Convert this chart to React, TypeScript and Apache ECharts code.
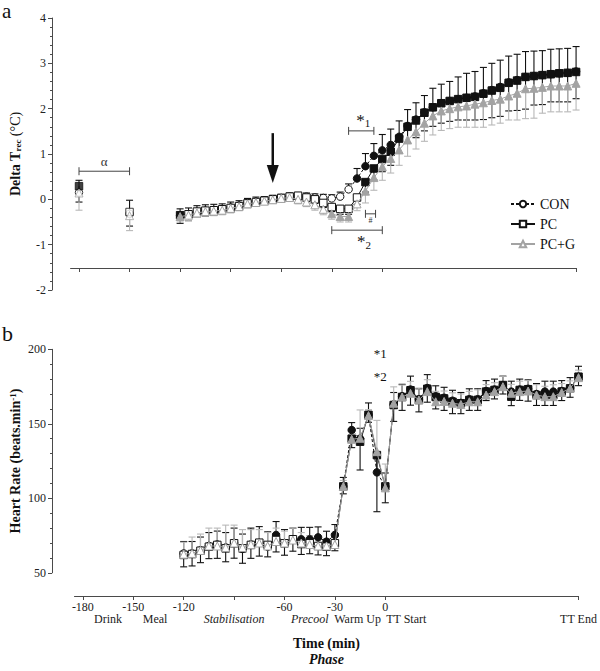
import React, { useEffect, useRef } from "react";
import * as echarts from "echarts";

const FONT = "'Liberation Serif', 'Times New Roman', serif";

// ---------- time points (min) ----------
const earlyTimes = [-180, -150];
const mainTimes = [
  -120, -115, -110, -105, -100, -95, -90, -85, -80, -75, -70, -65, -60, -55, -50, -45, -40, -35,
  -30, -25, -20, -15, -10, -5, 0, 5, 10, 15, 20, 25, 30, 35, 40, 45, 50, 55, 60, 65, 70, 75, 80,
  85, 90, 95, 100, 105, 110, 115,
];
const xTickValues = [-180, -150, -120, -90, -60, -30, 0, 115];
const xLabelValues = [-180, -150, -120, -60, -30, 0];
const phaseNames = ["Drink", "Meal", "Stabilisation", "Precool", "Warm Up", "TT Start", "TT End"];
const phasePositions = [-165, -137, -90, -45, -16.5, 12.5, 115];
const phaseItalic = [false, false, true, true, false, false, false];

// ---------- panel a: Delta Trec ----------
const conEarly = [0.15, -0.32];
const conEarlySd = [0.27, 0.3];
const pcEarly = [0.29, -0.28];
const pcEarlySd = [0.35, 0.31];
const pcgEarly = [0.14, -0.36];
const pcgEarlySd = [0.38, 0.33];

const conTrec = [
  -0.36, -0.33, -0.28, -0.25, -0.24, -0.22, -0.18, -0.14, -0.08, -0.05, -0.03, 0.0, 0.03, 0.06, 0.07, 0.06, 0.04, 0.03,
  0.02, 0.06, 0.22, 0.46, 0.73, 0.96, 1.08, 1.2, 1.38, 1.62, 1.76, 1.92, 2.03, 2.12, 2.17, 2.21, 2.24, 2.27, 2.34,
  2.41, 2.48, 2.58, 2.63, 2.7, 2.72, 2.74, 2.76, 2.78, 2.79, 2.82,
];
const pcTrec = [
  -0.35, -0.33, -0.27, -0.25, -0.24, -0.22, -0.19, -0.15, -0.09, -0.06, -0.03, 0.0, 0.03, 0.06, 0.08, 0.04, 0.0, -0.08,
  -0.17, -0.21, -0.21, 0.04, 0.38, 0.68, 0.89, 1.05, 1.34, 1.6, 1.74, 1.91, 2.03, 2.12, 2.17, 2.21, 2.24, 2.26, 2.33,
  2.4, 2.46, 2.57, 2.62, 2.7, 2.72, 2.74, 2.76, 2.78, 2.79, 2.81,
];
const pcgTrec = [
  -0.38, -0.35, -0.3, -0.27, -0.26, -0.24, -0.2, -0.16, -0.1, -0.07, -0.04, -0.01, 0.02, 0.04, 0.0, -0.06, -0.12, -0.22,
  -0.32, -0.38, -0.38, -0.1, 0.18, 0.48, 0.72, 0.9, 1.09, 1.31, 1.49, 1.68, 1.84, 1.95, 2.0, 2.04, 2.06, 2.1, 2.13,
  2.18, 2.21, 2.28, 2.34, 2.44, 2.45, 2.47, 2.5, 2.5, 2.5, 2.56,
];
const conTrecSd = [
  0.15, 0.14, 0.14, 0.13, 0.13, 0.12, 0.12, 0.11, 0.1, 0.1, 0.09, 0.09, 0.08, 0.08, 0.08, 0.08, 0.08, 0.08,
  0.08, 0.1, 0.12, 0.22, 0.28, 0.27, 0.35, 0.35, 0.35, 0.36, 0.37, 0.37, 0.42, 0.42, 0.43, 0.49, 0.54, 0.55, 0.57,
  0.59, 0.59, 0.58, 0.57, 0.56, 0.55, 0.54, 0.55, 0.54, 0.54, 0.55,
];
const pcTrecSd = [
  0.18, 0.14, 0.12, 0.12, 0.11, 0.1, 0.1, 0.09, 0.08, 0.08, 0.07, 0.07, 0.07, 0.07, 0.08, 0.08, 0.09, 0.1,
  0.1, 0.12, 0.12, 0.15, 0.22, 0.25, 0.28, 0.3, 0.32, 0.35, 0.38, 0.4, 0.42, 0.44, 0.45, 0.46, 0.49, 0.51, 0.57,
  0.6, 0.63, 0.62, 0.66, 0.71, 0.64, 0.65, 0.61, 0.63, 0.64, 0.59,
];
const pcgTrecSd = [
  0.12, 0.12, 0.1, 0.1, 0.1, 0.1, 0.1, 0.09, 0.09, 0.08, 0.08, 0.08, 0.08, 0.08, 0.1, 0.1, 0.12, 0.12,
  0.12, 0.12, 0.12, 0.15, 0.26, 0.28, 0.3, 0.32, 0.34, 0.36, 0.38, 0.4, 0.42, 0.43, 0.44, 0.45, 0.47, 0.51, 0.54,
  0.54, 0.53, 0.53, 0.59, 0.66, 0.66, 0.57, 0.57, 0.57, 0.57, 0.59,
];
// significance (filled symbols)
const conTrecFilledFrom = -15;
const conTrecFilledExtra: number[] = [];
const pcTrecFilledFrom = -10;
const pcTrecFilledExtra = [-180, -120];
const pcgTrecFilledFrom = -10;
const pcgTrecFilledExtra = [-120, -30, -25, -20];

// ---------- panel b: Heart rate ----------
const conHR = [
  63, 63, 65, 68, 69, 67, 70, 66, 69, 70, 67.5, 75.4, 70, 72, 72.5, 72.5, 73.8, 70.9, 75.4,
  108, 145.8, 140, 156, 117.4, 108, 163, 168.5, 173, 166.5, 174, 168.5, 167.5, 165.5, 164, 166.5, 166.5, 172, 173,
  176, 171.6, 173, 173.5, 170, 171.6, 171.6, 172, 174, 181.6,
];
const pcHR = [
  62, 62.6, 64.8, 67.5, 68.7, 66.4, 69.8, 66.4, 68.7, 70.2, 68.7, 72, 69.8, 72.5, 69.3, 69.8, 68, 67.5, 69.8,
  108, 140, 138, 156, 129, 108, 162.6, 168, 172.5, 166, 173.5, 168, 167, 164.8, 163.8, 166, 166, 171.6, 172.7,
  176, 168.2, 172.7, 173.2, 169.3, 169.3, 169.3, 171.6, 173.8, 181.6,
];
const pcgHR = [
  62.5, 63, 65, 68, 68, 67, 70, 67, 69, 70, 68, 71, 70, 72, 70, 69, 68, 68, 69,
  108, 139.6, 140.3, 155.5, 131.3, 107, 163.8, 168, 170.5, 166, 171.6, 164.8, 165, 163.8, 163, 164.8, 164.8, 169.3,
  171.6, 174.9, 170.5, 171.6, 172, 169.3, 168.2, 168.2, 171, 173.8, 181,
];
const conHRSd = [
  8, 8, 9, 9, 9, 10, 10, 10, 11, 11, 10, 9, 9, 8, 8, 8, 7, 7, 7,
  6, 5, 7, 8, 10, 9, 8, 8, 9, 7, 9, 7, 7, 7, 7, 7, 7, 7, 7, 6, 7, 7, 6, 7, 7, 7, 7, 7, 7,
];
const pcHRSd = [
  8, 8, 8, 8, 9, 9, 10, 10, 9, 9, 8, 8, 8, 8, 7, 7, 6, 6, 5,
  5, 6, 19, 5, 38, 11, 11, 9, 10, 8, 9, 8, 8, 8, 7, 7, 7, 6, 6, 6, 6, 7, 8, 7, 7, 7, 6, 6, 6,
];
const pcgHRSd = [
  8, 11, 11, 12, 12, 15, 12, 12, 10, 9, 9, 9, 8, 8, 7, 6, 6, 5, 5,
  4, 6, 19, 4, 21, 16, 11, 8, 8, 8, 8, 7, 7, 7, 7, 7, 8, 7, 6, 7, 6, 7, 7, 7, 7, 8, 6, 5, 5,
];
const conHRFilledFrom = -25;
const conHRFilledExtra = [-85, -70, -65, -50, -45, -40, -35, -30];
const pcHRFilledFrom = -25;
const pcgHRFilledFrom = -25;

// ---------- annotations (data coordinates) ----------
const alphaBracket = { x1: -180, x2: -150, y: 0.62 };
const star1Bracket = { x1: -20, x2: -5, y: 1.51 };
const hashBracket = { x1: -10, x2: -4, y: -0.32 };
const star2Bracket = { x1: -30, x2: 0, y: -0.68 };
const arrowAt = { x: -65, yTop: 1.46, yTip: 0.36 };
const hrStars = [
  { x: -3, y: 197, label: "*1" },
  { x: -3, y: 181.5, label: "*2" },
];

// ---------- layout ----------
const X_MIN = -185;
const X_MAX = 115;
const PX_PER_MIN = 1.685;
const AXIS_X = 52;
const TOP = { yTop: 18, yBottom: 290, vMin: -2, vMax: 4, xAxisY: 268, zeroX: 382.3 };
const BOT = { yTop: 349.3, yBottom: 572.8, vMin: 50, vMax: 200, xAxisY: 596, zeroX: 386.2 };

const BLACK = "#111";
const GRAY = "#a3a3a3";
const GRAY_ERR = "#b8b8b8";
const AX = "#4a4a4a";

function isFilled(t: number, from: number, extra: number[]) {
  return t >= from || extra.indexOf(t) >= 0;
}

function errSeries(name: string, axis: number, times: number[], vals: number[], sds: number[], dir: number, color: string) {
  return {
    type: "custom",
    name,
    xAxisIndex: axis,
    yAxisIndex: axis,
    z: 1,
    silent: true,
    clip: false,
    data: times.map((t, i) => [t, vals[i], sds[i]]),
    encode: { x: 0, y: 1 },
    renderItem: (params: any, api: any) => {
      const x = api.value(0);
      const y = api.value(1);
      const sd = api.value(2);
      const p0 = api.coord([x, y]);
      const p1 = api.coord([x, y + dir * sd]);
      const hw = 3.5;
      return {
        type: "group",
        children: [
          { type: "line", shape: { x1: p0[0], y1: p0[1], x2: p1[0], y2: p1[1] }, style: { stroke: color, lineWidth: 1.1 } },
          { type: "line", shape: { x1: p1[0] - hw, y1: p1[1], x2: p1[0] + hw, y2: p1[1] }, style: { stroke: color, lineWidth: 1.1 } },
        ],
      };
    },
  };
}

function markSeries(
  type: string,
  name: string,
  axis: number,
  times: number[],
  vals: number[],
  from: number,
  extra: number[],
  symbol: string,
  stroke: string,
  dashed: boolean,
  z: number
) {
  return {
    type,
    name,
    xAxisIndex: axis,
    yAxisIndex: axis,
    z,
    symbol,
    symbolSize: symbol === "triangle" ? 8 : 7.5,
    showSymbol: true,
    showAllSymbol: true,
    silent: true,
    itemStyle: { color: "#fff", borderColor: stroke, borderWidth: 1 },
    lineStyle: { color: stroke, width: 1, type: dashed ? [3, 2] : "solid" },
    data: times.map((t, i) =>
      isFilled(t, from, extra) ? { value: [t, vals[i]], itemStyle: { color: stroke } } : [t, vals[i]]
    ),
  };
}

function yAxisVisible(grid: number, P: any, interval: number, name: string, rich: any) {
  return {
    gridIndex: grid,
    type: "value",
    min: P.vMin,
    max: P.vMax,
    interval,
    axisLine: { show: true, lineStyle: { color: AX, width: 1 } },
    axisTick: { show: true, length: 4, lineStyle: { color: AX } },
    minorTick: { show: true, splitNumber: 5, length: 2, lineStyle: { color: AX } },
    splitLine: { show: false },
    minorSplitLine: { show: false },
    axisLabel: { fontFamily: FONT, fontSize: 12, color: "#222", margin: 6 },
    name,
    nameLocation: "middle",
    nameGap: 30,
    nameTextStyle: { rich },
  };
}

function buildOption() {
  const topPxPerUnit = (TOP.yBottom - TOP.yTop) / (TOP.vMax - TOP.vMin);
  const botPxPerUnit = (BOT.yBottom - BOT.yTop) / (BOT.vMax - BOT.vMin);
  const topDataMin = TOP.vMin + (TOP.yBottom - TOP.xAxisY) / topPxPerUnit;
  const botDataMin = BOT.vMin - (BOT.xAxisY - BOT.yBottom) / botPxPerUnit;
  const gridW = (X_MAX - X_MIN) * PX_PER_MIN;

  const nameRichBase = { fontFamily: FONT, fontSize: 14, fontWeight: "bold", color: BLACK };

  return {
    animation: false,
    backgroundColor: "#fff",
    textStyle: { fontFamily: FONT },
    grid: [
      { left: AXIS_X, top: TOP.yTop, width: 40, height: TOP.yBottom - TOP.yTop },
      { left: TOP.zeroX + X_MIN * PX_PER_MIN, top: TOP.yTop, width: gridW, height: TOP.xAxisY - TOP.yTop },
      { left: AXIS_X, top: BOT.yTop, width: 40, height: BOT.yBottom - BOT.yTop },
      { left: BOT.zeroX + X_MIN * PX_PER_MIN, top: BOT.yTop, width: gridW, height: BOT.xAxisY - BOT.yTop },
    ],
    legend: {
      data: ["CON", "PC", "PC+G"],
      orient: "vertical",
      left: 505,
      top: 192,
      itemWidth: 24,
      itemHeight: 8,
      itemGap: 6,
      selectedMode: false,
      textStyle: { fontFamily: FONT, fontSize: 14, color: BLACK },
    },
    xAxis: [
      { gridIndex: 0, type: "value", show: false, min: 0, max: 1 },
      {
        gridIndex: 1,
        type: "value",
        min: X_MIN,
        max: X_MAX,
        axisLine: { show: true, onZero: false, lineStyle: { color: AX } },
        axisTick: { show: true, customValues: xTickValues, length: 4, lineStyle: { color: AX } },
        axisLabel: { show: false },
        splitLine: { show: false },
      },
      { gridIndex: 2, type: "value", show: false, min: 0, max: 1 },
      {
        gridIndex: 3,
        type: "value",
        min: X_MIN,
        max: X_MAX,
        axisLine: { show: true, onZero: false, lineStyle: { color: AX } },
        axisTick: { show: true, customValues: xTickValues, length: 4, lineStyle: { color: AX } },
        axisLabel: {
          show: true,
          customValues: xLabelValues,
          fontFamily: FONT,
          fontSize: 12,
          color: "#222",
          margin: 5,
          formatter: (v: number) => String(v),
        },
        splitLine: { show: false },
      },
      {
        gridIndex: 3,
        type: "value",
        position: "bottom",
        offset: 13,
        min: X_MIN,
        max: X_MAX,
        axisLine: { show: false },
        axisTick: { show: false },
        splitLine: { show: false },
        axisLabel: {
          show: true,
          customValues: phasePositions,
          margin: 4,
          formatter: (v: number) => {
            let best = 0;
            phasePositions.forEach((p, i) => {
              if (Math.abs(p - v) < Math.abs(phasePositions[best] - v)) best = i;
            });
            return phaseItalic[best] ? `{i|${phaseNames[best]}}` : `{n|${phaseNames[best]}}`;
          },
          rich: {
            n: { fontFamily: FONT, fontSize: 12, color: "#222" },
            i: { fontFamily: FONT, fontSize: 12, color: "#222", fontStyle: "italic" },
          },
        },
        name: "{t|Time (min)}\n{p|Phase}",
        nameLocation: "middle",
        nameGap: 26,
        nameTextStyle: {
          rich: {
            t: { ...nameRichBase, lineHeight: 16 },
            p: { ...nameRichBase, fontStyle: "italic", lineHeight: 16 },
          },
        },
      },
    ],
    yAxis: [
      yAxisVisible(0, TOP, 1, "{b|Delta T}{s|rec}{n| (°C)}", {
        b: nameRichBase,
        s: { ...nameRichBase, fontSize: 9, verticalAlign: "bottom", lineHeight: 9 },
        n: { fontFamily: FONT, fontSize: 14, color: BLACK },
      }),
      { gridIndex: 1, type: "value", show: false, min: topDataMin, max: TOP.vMax },
      yAxisVisible(2, BOT, 50, "{b|Heart Rate (beats.min}{p|-1}{b|)}", {
        b: nameRichBase,
        p: { ...nameRichBase, fontSize: 9, verticalAlign: "top", lineHeight: 9 },
      }),
      { gridIndex: 3, type: "value", show: false, min: botDataMin, max: BOT.vMax },
    ],
    series: [
      // panel a error bars
      errSeries("e1", 1, earlyTimes, conEarly, conEarlySd, 1, BLACK),
      errSeries("e2", 1, earlyTimes, pcEarly, pcEarlySd, -1, BLACK),
      errSeries("e3", 1, earlyTimes, pcgEarly, pcgEarlySd, -1, GRAY_ERR),
      errSeries("e4", 1, mainTimes, conTrec, conTrecSd, 1, BLACK),
      errSeries("e5", 1, mainTimes, pcTrec, pcTrecSd, -1, BLACK),
      errSeries("e6", 1, mainTimes, pcgTrec, pcgTrecSd, -1, GRAY_ERR),
      // panel a marks
      markSeries("scatter", "CON-early", 1, earlyTimes, conEarly, conTrecFilledFrom, conTrecFilledExtra, "circle", BLACK, false, 3),
      markSeries("scatter", "PC-early", 1, earlyTimes, pcEarly, pcTrecFilledFrom, pcTrecFilledExtra, "rect", BLACK, false, 4),
      markSeries("scatter", "PCG-early", 1, earlyTimes, pcgEarly, pcgTrecFilledFrom, pcgTrecFilledExtra, "triangle", GRAY, false, 5),
      markSeries("line", "CON", 1, mainTimes, conTrec, conTrecFilledFrom, conTrecFilledExtra, "circle", BLACK, true, 3),
      markSeries("line", "PC", 1, mainTimes, pcTrec, pcTrecFilledFrom, pcTrecFilledExtra, "rect", BLACK, false, 4),
      markSeries("line", "PC+G", 1, mainTimes, pcgTrec, pcgTrecFilledFrom, pcgTrecFilledExtra, "triangle", GRAY, false, 5),
      // panel b
      errSeries("e7", 3, mainTimes, conHR, conHRSd, 1, BLACK),
      errSeries("e8", 3, mainTimes, pcHR, pcHRSd, -1, BLACK),
      errSeries("e9", 3, mainTimes, pcgHR, pcgHRSd, 1, GRAY_ERR),
      markSeries("line", "CON-hr", 3, mainTimes, conHR, conHRFilledFrom, conHRFilledExtra, "circle", BLACK, true, 3),
      markSeries("line", "PC-hr", 3, mainTimes, pcHR, pcHRFilledFrom, [], "rect", BLACK, false, 4),
      markSeries("line", "PCG-hr", 3, mainTimes, pcgHR, pcgHRFilledFrom, [], "triangle", GRAY, false, 5),
    ],
  };
}

function bracket(chart: any, grid: number, b: { x1: number; x2: number; y: number }) {
  const p1 = chart.convertToPixel({ gridIndex: grid }, [b.x1, b.y]);
  const p2 = chart.convertToPixel({ gridIndex: grid }, [b.x2, b.y]);
  const st = { stroke: "#444", lineWidth: 1 };
  return {
    p1,
    p2,
    els: [
      { type: "line", shape: { x1: p1[0], y1: p1[1], x2: p2[0], y2: p2[1] }, style: st, z: 10 },
      { type: "line", shape: { x1: p1[0], y1: p1[1] - 4, x2: p1[0], y2: p1[1] + 4 }, style: st, z: 10 },
      { type: "line", shape: { x1: p2[0], y1: p2[1] - 4, x2: p2[0], y2: p2[1] + 4 }, style: st, z: 10 },
    ],
  };
}

function buildGraphics(chart: any) {
  const els: any[] = [];
  const starRich = {
    a: { fontFamily: FONT, fontSize: 17, fill: BLACK, color: BLACK },
    b: { fontFamily: FONT, fontSize: 11, fill: BLACK, color: BLACK, verticalAlign: "bottom", lineHeight: 11 },
  };

  const al = bracket(chart, 1, alphaBracket);
  els.push(...al.els);
  els.push({
    type: "text",
    z: 10,
    style: { text: "α", x: (al.p1[0] + al.p2[0]) / 2, y: al.p1[1] - 3, textAlign: "center", textVerticalAlign: "bottom", font: `13px ${FONT}`, fill: "#333" },
  });

  const s1 = bracket(chart, 1, star1Bracket);
  els.push(...s1.els);
  els.push({
    type: "text",
    z: 10,
    style: { text: "{a|*}{b|1}", rich: starRich, x: (s1.p1[0] + s1.p2[0]) / 2 + 2, y: s1.p1[1] - 2, textAlign: "center", textVerticalAlign: "bottom" },
  });

  const hb = bracket(chart, 1, hashBracket);
  els.push(...hb.els);
  els.push({
    type: "text",
    z: 10,
    style: { text: "#", x: (hb.p1[0] + hb.p2[0]) / 2, y: hb.p1[1] + 3, textAlign: "center", textVerticalAlign: "top", font: `8px ${FONT}`, fill: "#333" },
  });

  const s2 = bracket(chart, 1, star2Bracket);
  els.push(...s2.els);
  els.push({
    type: "text",
    z: 10,
    style: { text: "{a|*}{b|2}", rich: starRich, x: (s2.p1[0] + s2.p2[0]) / 2 + 7, y: s2.p1[1] + 3, textAlign: "center", textVerticalAlign: "top" },
  });

  const aTop = chart.convertToPixel({ gridIndex: 1 }, [arrowAt.x, arrowAt.yTop]);
  const aTip = chart.convertToPixel({ gridIndex: 1 }, [arrowAt.x, arrowAt.yTip]);
  const headLen = 18;
  els.push({
    type: "line",
    z: 10,
    shape: { x1: aTop[0], y1: aTop[1], x2: aTop[0], y2: aTip[1] - headLen + 1 },
    style: { stroke: BLACK, lineWidth: 2.5 },
  });
  els.push({
    type: "polygon",
    z: 10,
    shape: { points: [[aTip[0] - 6, aTip[1] - headLen], [aTip[0] + 6, aTip[1] - headLen], [aTip[0], aTip[1]]] },
    style: { fill: BLACK },
  });

  hrStars.forEach((s) => {
    const p = chart.convertToPixel({ gridIndex: 3 }, [s.x, s.y]);
    els.push({
      type: "text",
      z: 10,
      style: { text: s.label, x: p[0], y: p[1], textAlign: "center", textVerticalAlign: "middle", font: `13px ${FONT}`, fill: BLACK },
    });
  });

  els.push({ type: "text", z: 10, style: { text: "a", x: 2, y: 0, font: `21px ${FONT}`, fill: BLACK } });
  els.push({ type: "text", z: 10, style: { text: "b", x: 2, y: 322, font: `22px ${FONT}`, fill: BLACK } });
  return els;
}

export default function App() {
  const ref = useRef<HTMLDivElement>(null);
  useEffect(() => {
    const chart = echarts.init(ref.current as HTMLDivElement, null, { renderer: "svg" });
    chart.setOption(buildOption() as any);
    chart.setOption({ graphic: buildGraphics(chart) } as any);
    return () => chart.dispose();
  }, []);
  return (
    <div
      ref={ref}
      style={{ position: "absolute", left: 0, top: 0, width: 600, height: 671, background: "#fff" }}
    />
  );
}
